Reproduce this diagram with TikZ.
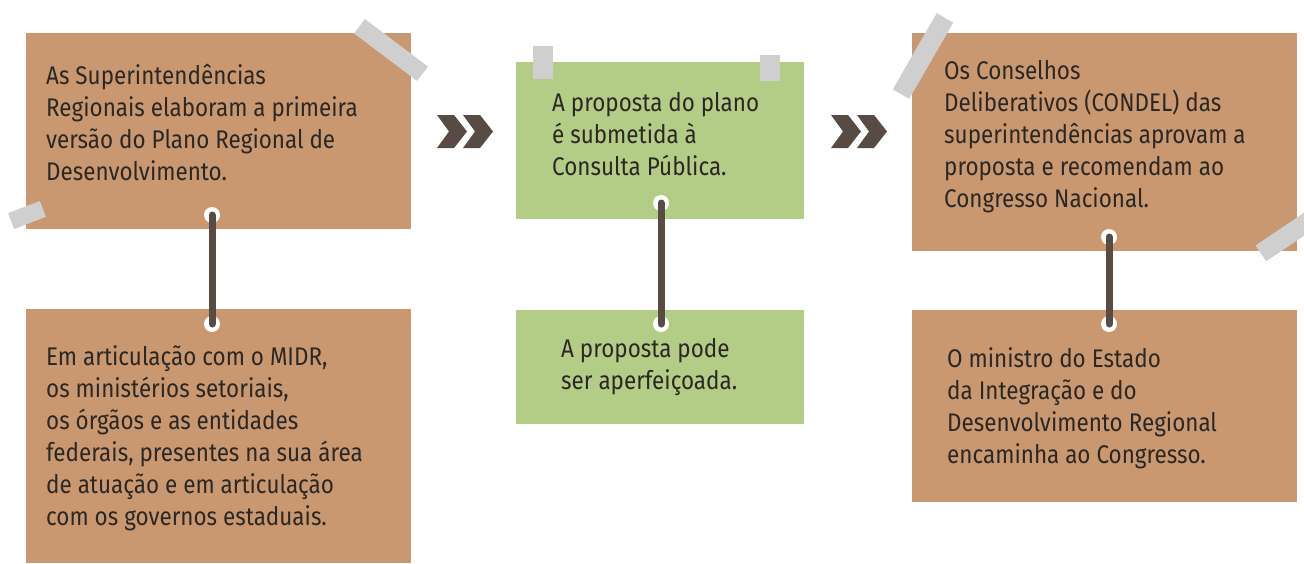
\documentclass[tikz,border=0pt]{standalone}
\usepackage{fontspec}
\setmainfont[FakeStretch=0.88]{Fira Sans}
\usetikzlibrary{positioning}

\definecolor{tan}{HTML}{C99870}
\definecolor{leaf}{HTML}{B3CD87}
\definecolor{tape}{HTML}{CFCFCF}
\definecolor{cord}{HTML}{574B43}
\definecolor{ink}{HTML}{2B2724}

\tikzset{
  card/.style={below right, inner sep=0pt, minimum width=#1},
  cardtext/.style={below right, inner sep=0pt, align=left, text=ink,
    font=\fontsize{25.5pt}{32pt}\selectfont},
  tapestrip/.style={fill=tape, inner sep=0pt},
  hole/.style={circle, fill=white, inner sep=0pt, minimum size=16pt},
  cordline/.style={draw=cord, line width=7pt, line cap=round},
  chevron/.style={fill=cord}
}

\begin{document}
\begin{tikzpicture}[x=1pt, y=-1pt]
\clip (0,0) rectangle (1304,563);

% Column 1 boxes
\node[card=385pt, minimum height=196pt, fill=tan] (card1) at (26,33) {};
\node[card=385pt, minimum height=254pt, fill=tan] (card2) at (26,309) {};

% Column 2 boxes
\node[card=288pt, minimum height=157pt, fill=leaf] (card3) at (516,62) {};
\node[card=288pt, minimum height=114pt, fill=leaf] (card4) at (516,310) {};

% Column 3 boxes
\node[card=385pt, minimum height=218pt, fill=tan] (card5) at (912,33) {};
\node[card=385pt, minimum height=192pt, fill=tan] (card6) at (912,310) {};

% Tapes
\node[tapestrip, minimum width=79pt, minimum height=18pt, rotate=-37] (tape1) at (391,50) {};
\node[tapestrip, minimum width=34pt, minimum height=17pt, rotate=21] (tape2) at (27,215) {};
\node[tapestrip, minimum width=20pt, minimum height=33pt] (tape3) at (543,62.5) {};
\node[tapestrip, minimum width=20pt, minimum height=26pt] (tape4) at (770,68) {};
\node[tapestrip, minimum width=88pt, minimum height=19pt, rotate=60] (tape5) at (923,56) {};
\node[tapestrip, minimum width=80pt, minimum height=19pt, rotate=34] (tape6) at (1294,231) {};

% Texts
\node[cardtext] (text1) at (46,61.6) {\strut As Superintendências\\ Regionais elaboram a primeira\\ versão do Plano Regional de\\ Desenvolvimento.};
\node[cardtext] (text2) at (46,342.6) {\strut Em articulação com o MIDR,\\ os ministérios setoriais,\\ os órgãos e as entidades\\ federais, presentes na sua área\\ de atuação e em articulação\\ com os governos estaduais.};
\node[cardtext] (text3) at (552,88.6) {\strut A proposta do plano\\ é submetida à\\ Consulta Pública.};
\node[cardtext] (text4) at (561,334.6) {\strut A proposta pode\\ ser aperfeiçoada.};
\node[cardtext] (text5) at (944,56.6) {\strut Os Conselhos\\ Deliberativos (CONDEL) das\\ superintendências aprovam a\\ proposta e recomendam ao\\ Congresso Nacional.};
\node[cardtext] (text6) at (947,344.6) {\strut O ministro do Estado\\ da Integração e do\\ Desenvolvimento Regional\\ encaminha ao Congresso.};

% Holes and cords
\node[hole] (hole1a) at (212,215) {};
\node[hole] (hole1b) at (212,324) {};
\node[hole] (hole3a) at (661,203) {};
\node[hole] (hole3b) at (661,324) {};
\node[hole] (hole5a) at (1109,237) {};
\node[hole] (hole5b) at (1109,324) {};
\draw[cordline] (hole1a.center) -- (hole1b.center);
\draw[cordline] (hole3a.center) -- (hole3b.center);
\draw[cordline] (hole5a.center) -- (hole5b.center);

% Chevrons
\foreach \cx in {437,463,831,857}
  \fill[chevron] (\cx,115) -- ++(17,0) -- ++(13,16.5) -- ++(-13,16.5) -- ++(-17,0) -- ++(12,-16.5) -- cycle;

\end{tikzpicture}
\end{document}
